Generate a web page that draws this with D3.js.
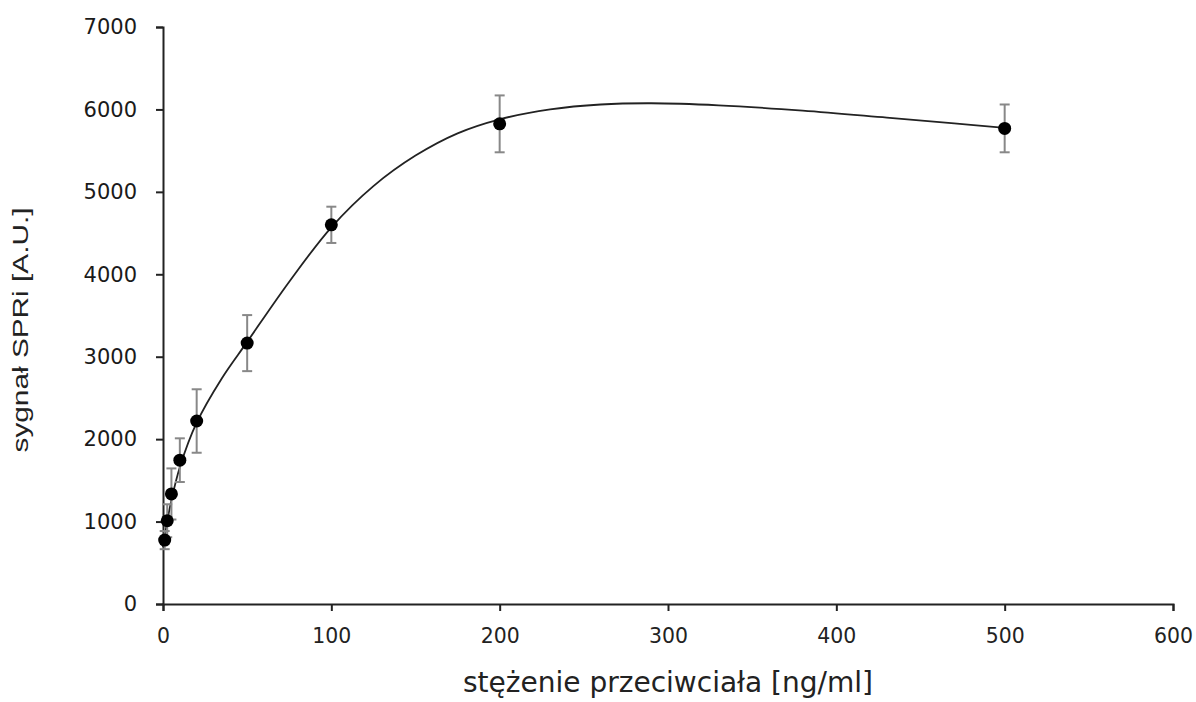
<!DOCTYPE html>
<html>
<head>
<meta charset="utf-8">
<script src="https://cdn.jsdelivr.net/npm/d3@7"></script>
<style>
  body { margin: 0; background: #fff; }
</style>
</head>
<body>
<svg id="svg" width="1196" height="702"></svg>
<script>
'use strict';

// measured points
const conc = [1, 2.5, 5, 10, 20, 50, 100, 200, 500];
const signal = [775, 1010, 1335, 1745, 2220, 3165, 4600, 5825, 5770];
const errors = [110, 200, 310, 265, 385, 340, 220, 345, 290];

// fitted curve
const fitX = [0, 2.5, 5, 10, 20, 35, 50, 75, 100, 125, 150, 175, 200, 230, 260, 290, 330, 380, 430, 470, 500];
const fitY = [690, 1000, 1260, 1660, 2200, 2740, 3180, 3910, 4570, 5070, 5440, 5710, 5880, 6000, 6060, 6075, 6050, 5985, 5900, 5830, 5775];

const xTicks = [0, 100, 200, 300, 400, 500, 600];
const yTicks = [0, 1000, 2000, 3000, 4000, 5000, 6000, 7000];

const margin = { left: 163, right: 23, top: 27, bottom: 98 };
const W = 1196, H = 702;

const svg = d3.select('#svg');

const x = d3.scaleLinear().domain([0, 600]).range([margin.left, W - margin.right]);
const y = d3.scaleLinear().domain([0, 7000]).range([H - margin.bottom, margin.top]);

// axes
const yAxis = svg.append('g')
  .attr('transform', `translate(${margin.left},0)`)
  .call(d3.axisLeft(y).tickValues(yTicks).tickSize(7).tickPadding(19).tickFormat(d3.format('d')));
yAxis.selectAll('text')
  .attr('font-family', 'DejaVu Sans, Verdana, sans-serif')
  .attr('font-size', 21)
  .attr('fill', '#1a1a1a');

const xAxis = svg.append('g')
  .attr('transform', `translate(0,${H - margin.bottom})`)
  .call(d3.axisBottom(x).tickValues(xTicks).tickSize(7).tickPadding(17).tickFormat(d3.format('d')));
xAxis.selectAll('text')
  .attr('font-family', 'DejaVu Sans Condensed, DejaVu Sans, sans-serif')
  .attr('font-stretch', 'condensed')
  .attr('font-size', 21)
  .attr('fill', '#222')
  .attr('textLength', d => String(d).length * 13)
  .attr('lengthAdjust', 'spacingAndGlyphs');

svg.selectAll('.domain, .tick line').attr('stroke', '#222').attr('stroke-width', 2);

// axis titles
svg.append('text')
  .attr('x', 668).attr('y', 692)
  .attr('text-anchor', 'middle')
  .attr('font-family', 'DejaVu Sans Condensed, DejaVu Sans, sans-serif')
  .attr('font-stretch', 'condensed')
  .attr('font-size', 28)
  .attr('fill', '#222')
  .attr('textLength', 410)
  .attr('lengthAdjust', 'spacingAndGlyphs')
  .text('stężenie przeciwciała [ng/ml]');

svg.append('text')
  .attr('transform', 'translate(28,330) rotate(-90)')
  .attr('text-anchor', 'middle')
  .attr('font-family', 'Liberation Sans, Arial, sans-serif')
  .attr('font-size', 22)
  .attr('fill', '#222')
  .attr('textLength', 245)
  .attr('lengthAdjust', 'spacingAndGlyphs')
  .text('sygnał SPRi [A.U.]');

// fitted curve
const fit = fitX.map((d, i) => [d, fitY[i]]);
svg.append('path')
  .datum(fit)
  .attr('fill', 'none')
  .attr('stroke', '#222')
  .attr('stroke-width', 1.8)
  .attr('d', d3.line().x(d => x(d[0])).y(d => y(d[1])).curve(d3.curveCatmullRom.alpha(0.5)));

// error bars
const pts = conc.map((c, i) => ({ c, v: signal[i], e: errors[i] }));
const eb = svg.append('g').attr('stroke', '#888').attr('stroke-width', 2);
eb.selectAll('line.v').data(pts).join('line')
  .attr('x1', d => x(d.c)).attr('x2', d => x(d.c))
  .attr('y1', d => y(d.v - d.e)).attr('y2', d => y(d.v + d.e));
eb.selectAll('line.top').data(pts).join('line')
  .attr('x1', d => x(d.c) - 5).attr('x2', d => x(d.c) + 5)
  .attr('y1', d => y(d.v + d.e)).attr('y2', d => y(d.v + d.e));
eb.selectAll('line.bot').data(pts).join('line')
  .attr('x1', d => x(d.c) - 5).attr('x2', d => x(d.c) + 5)
  .attr('y1', d => y(d.v - d.e)).attr('y2', d => y(d.v - d.e));

// markers
svg.append('g').selectAll('circle').data(pts).join('circle')
  .attr('cx', d => x(d.c)).attr('cy', d => y(d.v))
  .attr('r', 6.5)
  .attr('fill', '#000');
</script>
</body>
</html>
